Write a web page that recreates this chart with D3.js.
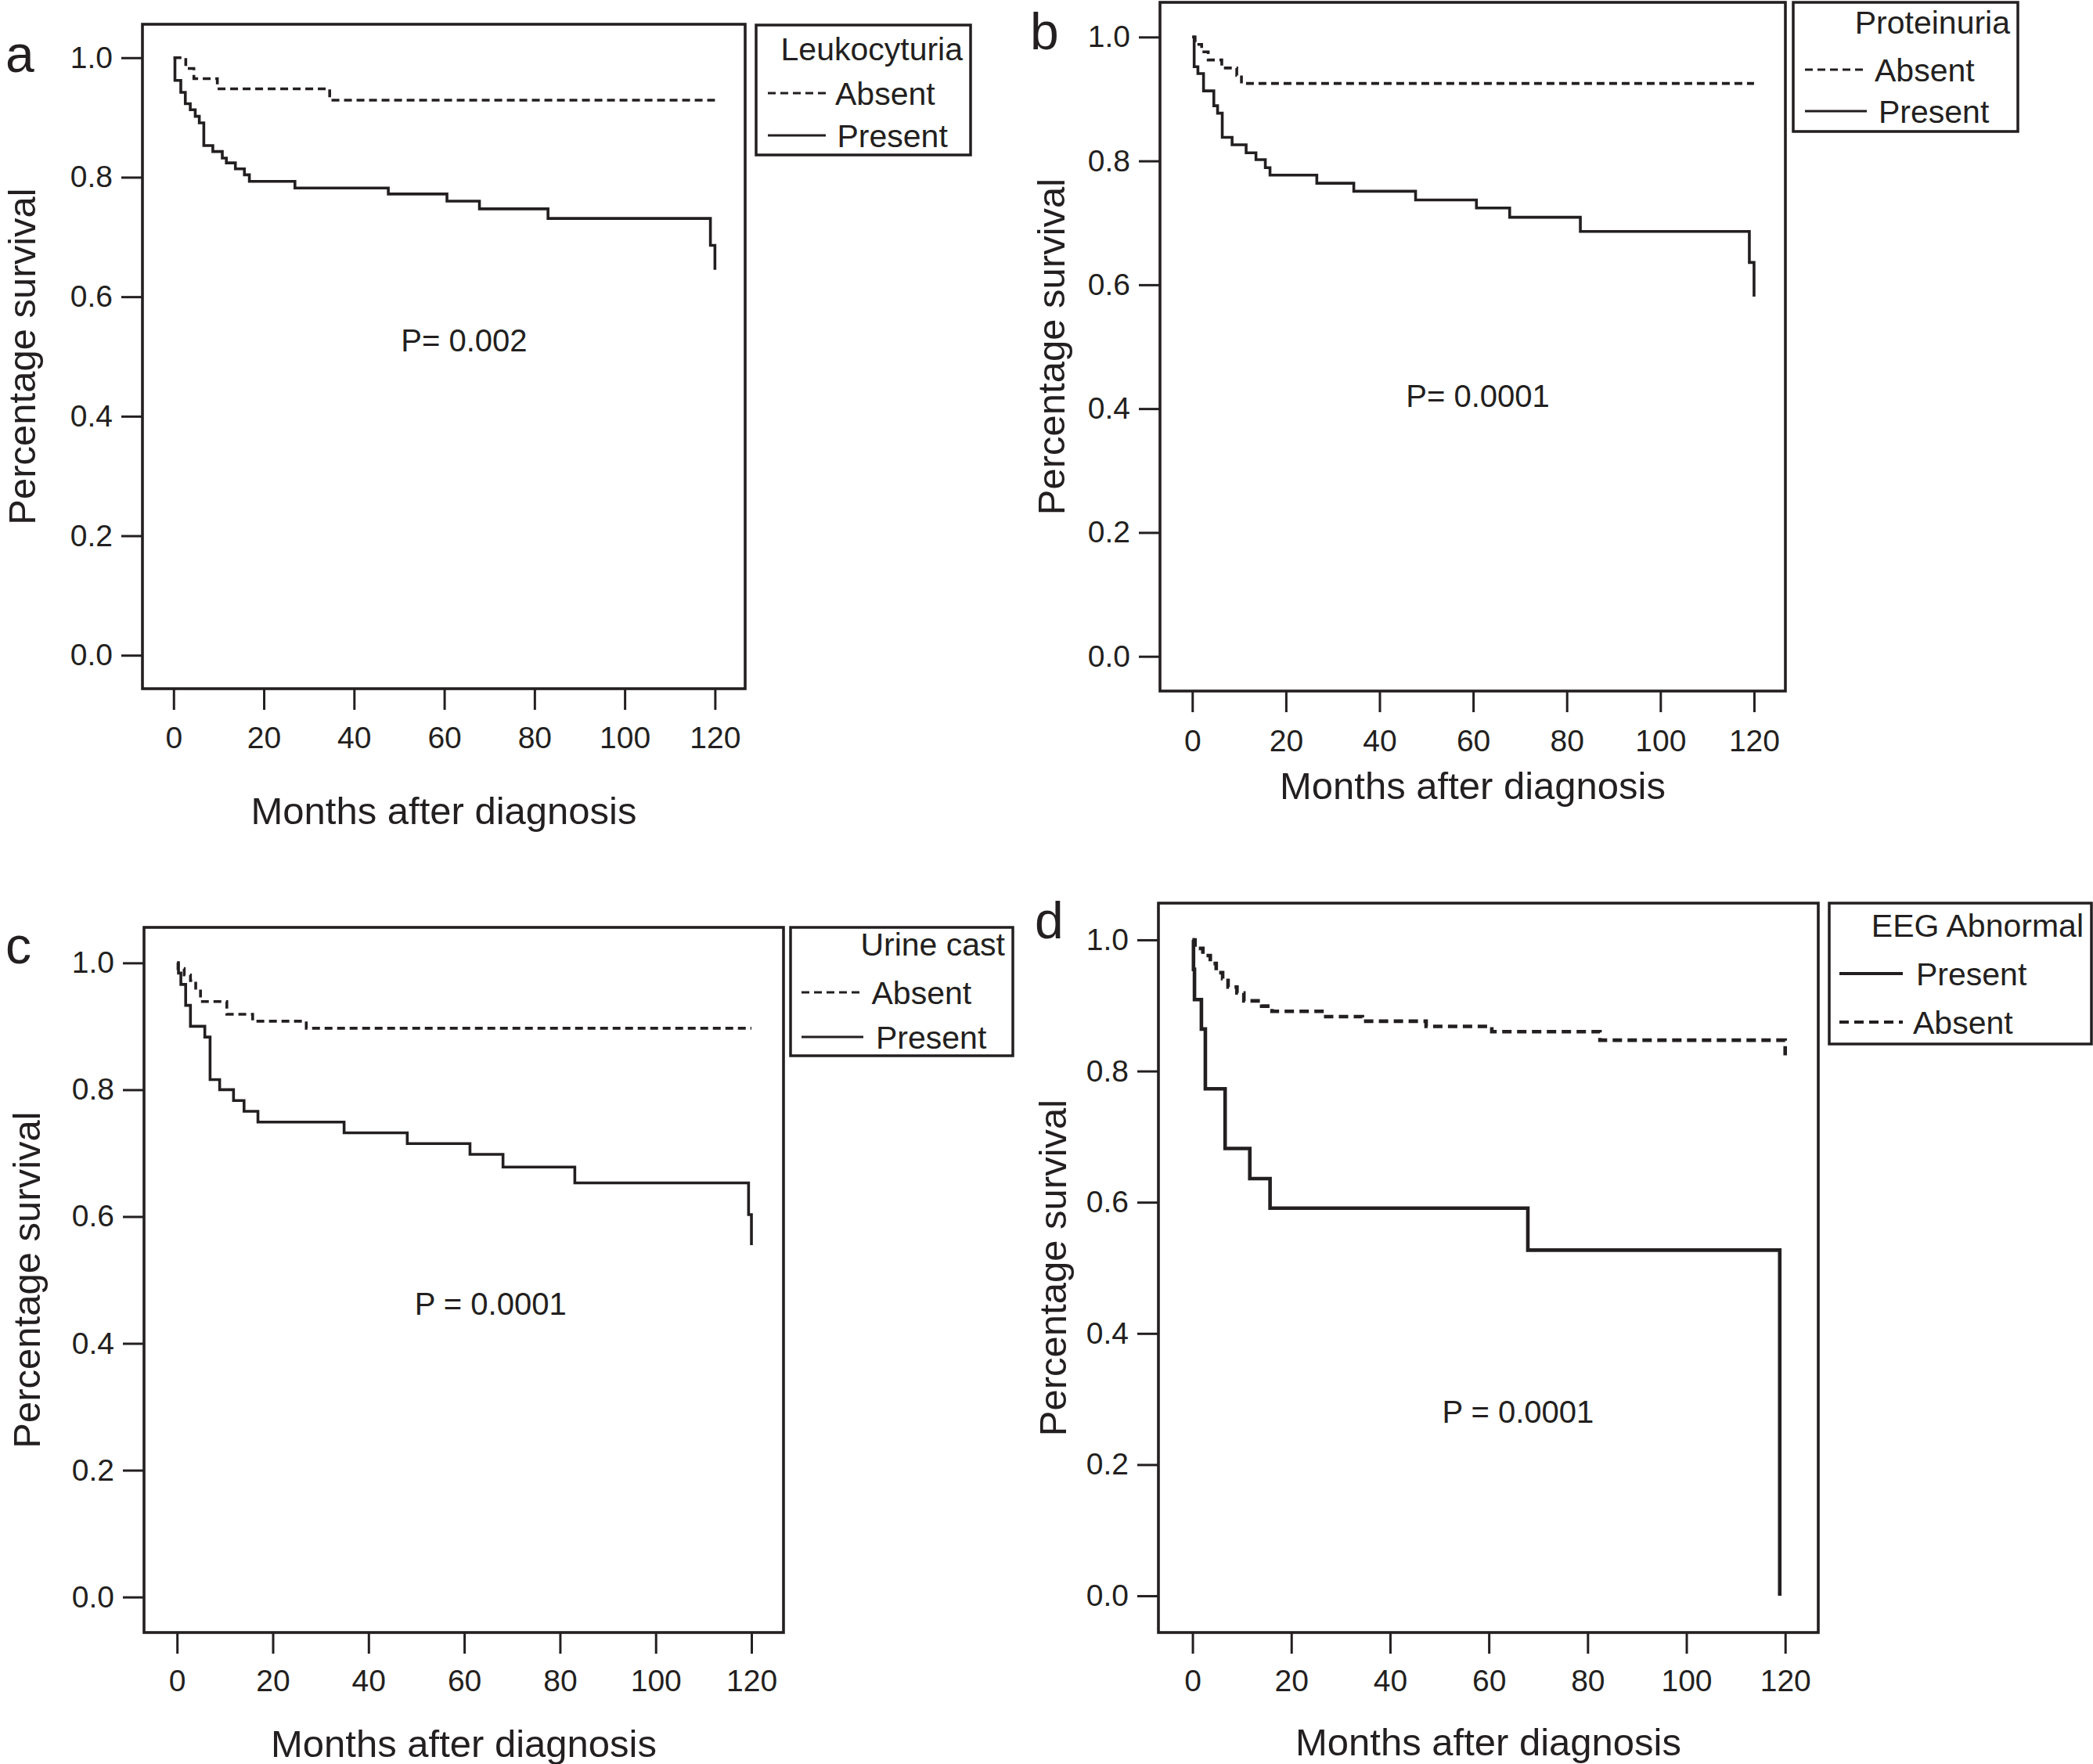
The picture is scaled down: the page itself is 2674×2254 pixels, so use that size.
<!DOCTYPE html>
<html>
<head>
<meta charset="utf-8">
<script src="https://cdn.jsdelivr.net/npm/d3@7"></script>
<style>
  html, body { margin: 0; padding: 0; background: #ffffff; }
  svg { display: block; }
</style>
</head>
<body>
<svg id="chart" width="2674" height="2254"></svg>
<script>
// ---------------- DATA ----------------
const monthTicks = [0, 20, 40, 60, 80, 100, 120];
const survivalTicks = [0.0, 0.2, 0.4, 0.6, 0.8, 1.0];

const panelLetters = ["a", "b", "c", "d"];
const legendTitles = ["Leukocyturia", "Proteinuria", "Urine cast", "EEG Abnormal"];
const pValueLabels = ["P= 0.002", "P= 0.0001", "P = 0.0001", "P = 0.0001"];
const xAxisTitle = "Months after diagnosis";
const yAxisTitle = "Percentage survival";

// (a) Leukocyturia
const leukoAbsentMonths   = [0, 2.7, 4.5, 9.7, 34.6, 120];
const leukoAbsentSurv     = [1.0, 0.982, 0.965, 0.948, 0.929, 0.929];
const leukoPresentMonths  = [0, 0.3, 1.6, 2.6, 3.7, 4.8, 5.7, 6.7, 8.7, 10.8, 11.7, 13.7, 15.7, 16.8, 26.9, 47.6, 60.6, 67.8, 83.0, 119.0, 120];
const leukoPresentSurv    = [1.0, 0.962, 0.942, 0.923, 0.913, 0.902, 0.891, 0.853, 0.843, 0.832, 0.824, 0.814, 0.804, 0.793, 0.782, 0.772, 0.760, 0.747, 0.731, 0.686, 0.645];

// (b) Proteinuria
const protAbsentMonths    = [0, 0.6, 2.0, 3.4, 6.3, 9.5, 10.5, 120];
const protAbsentSurv      = [1.0, 0.988, 0.976, 0.963, 0.950, 0.938, 0.925, 0.925];
const protPresentMonths   = [0, 0.4, 1.2, 2.4, 4.6, 5.4, 6.4, 8.5, 11.5, 13.6, 15.6, 16.6, 26.6, 34.5, 47.7, 60.7, 67.8, 82.9, 119.0, 120];
const protPresentSurv     = [1.0, 0.952, 0.941, 0.913, 0.889, 0.877, 0.838, 0.826, 0.813, 0.802, 0.789, 0.777, 0.764, 0.751, 0.737, 0.724, 0.709, 0.686, 0.636, 0.581];

// (c) Urine cast
const castAbsentMonths    = [0, 0.2, 1.5, 2.8, 3.9, 4.9, 10.4, 15.8, 27.0, 120];
const castAbsentSurv      = [1.0, 0.991, 0.981, 0.972, 0.960, 0.939, 0.919, 0.908, 0.897, 0.897];
const castPresentMonths   = [0, 0.3, 0.8, 1.8, 2.8, 5.8, 6.9, 8.9, 11.8, 14.0, 16.9, 34.9, 48.1, 61.2, 68.1, 83.1, 119.4, 120];
const castPresentSurv     = [1.0, 0.984, 0.966, 0.933, 0.900, 0.883, 0.816, 0.800, 0.783, 0.766, 0.749, 0.732, 0.715, 0.698, 0.678, 0.653, 0.603, 0.555];

// (d) EEG abnormal
const eegPresentMonths    = [0, 0.2, 0.4, 1.8, 2.6, 6.6, 11.6, 15.7, 67.9, 118.9];
const eegPresentSurv      = [1.0, 0.955, 0.909, 0.864, 0.773, 0.682, 0.636, 0.591, 0.527, 0.0];
const eegAbsentMonths     = [0, 0.5, 2.1, 3.6, 4.8, 6.1, 7.2, 9.0, 10.4, 14.0, 16.1, 26.6, 34.4, 47.3, 60.6, 82.5, 120];
const eegAbsentSurv       = [1.0, 0.987, 0.976, 0.964, 0.950, 0.941, 0.928, 0.919, 0.907, 0.899, 0.891, 0.883, 0.876, 0.868, 0.860, 0.847, 0.824];

// p-value label anchor positions (months, survival)
const pValueMonths = [64.4, 61.0, 65.5, 65.9];
const pValueSurv   = [0.527, 0.421, 0.462, 0.281];

// ---------------- LAYOUT ----------------
const INK = "#231f20";
const FONT = "'Liberation Sans', Arial, Helvetica, sans-serif";
const xDomain = [-6.9, 126.7];
const yDomain = [-0.056, 1.056];

const panels = [
  { frame: {x:182, y:31, w:770, h:849}, letter: {x:7, y:92}, yTitleX: 45, xTitleY: 1053, tickBase: 956,
    lw: 3.6, dash: "10,6",
    legend: {x:966, y:32, w:274, h:166, titleY:45, rows:[87,141], lineX:[15,89], textX:[101,103.5]},
    series: [
      {name:"Absent",  months: leukoAbsentMonths,  surv: leukoAbsentSurv,  dashed:true},
      {name:"Present", months: leukoPresentMonths, surv: leukoPresentSurv, dashed:false}
    ]},
  { frame: {x:1482, y:3, w:799, h:880}, letter: {x:1316, y:63}, yTitleX: 1360, xTitleY: 1021, tickBase: 960,
    lw: 3.6, dash: "10,6",
    legend: {x:2291, y:3, w:287, h:165, titleY:40, rows:[86,139], lineX:[15,94], textX:[104,109]},
    series: [
      {name:"Absent",  months: protAbsentMonths,  surv: protAbsentSurv,  dashed:true},
      {name:"Present", months: protPresentMonths, surv: protPresentSurv, dashed:false}
    ]},
  { frame: {x:184, y:1185, w:817, h:901}, letter: {x:7, y:1231}, yTitleX: 51, xTitleY: 2245, tickBase: 2161,
    lw: 3.6, dash: "10,6",
    legend: {x:1010, y:1185, w:284, h:164, titleY:36, rows:[83,140], lineX:[14,93], textX:[103.5,109]},
    series: [
      {name:"Absent",  months: castAbsentMonths,  surv: castAbsentSurv,  dashed:true},
      {name:"Present", months: castPresentMonths, surv: castPresentSurv, dashed:false}
    ]},
  { frame: {x:1480, y:1154, w:843, h:932}, letter: {x:1322, y:1199}, yTitleX: 1362, xTitleY: 2243, tickBase: 2161,
    lw: 4.6, dash: "12,7",
    legend: {x:2337, y:1154, w:335, h:180, titleY:43, rows:[90,152], lineX:[13,94], textX:[111,107]},
    series: [
      {name:"Present", months: eegPresentMonths, surv: eegPresentSurv, dashed:false},
      {name:"Absent",  months: eegAbsentMonths,  surv: eegAbsentSurv,  dashed:true}
    ]}
];

// ---------------- DRAW ----------------
const svg = d3.select("#chart");

panels.forEach((p, i) => {
  const f = p.frame;
  const x = d3.scaleLinear().domain(xDomain).range([f.x, f.x + f.w]);
  const y = d3.scaleLinear().domain(yDomain).range([f.y + f.h, f.y]);
  const g = svg.append("g");

  // y axis (ticks outside left of frame)
  const yAx = g.append("g")
    .attr("transform", `translate(${f.x},0)`)
    .call(d3.axisLeft(y).tickValues(survivalTicks).tickFormat(d3.format(".1f"))
      .tickSize(27).tickSizeOuter(0).tickPadding(11));
  yAx.select(".domain").remove();
  yAx.selectAll("line").attr("stroke", INK).attr("stroke-width", 3);
  yAx.selectAll("text").attr("fill", INK).attr("font-family", FONT).attr("font-size", 39);

  // x axis (ticks outside below frame)
  const xAx = g.append("g")
    .attr("transform", `translate(0,${f.y + f.h})`)
    .call(d3.axisBottom(x).tickValues(monthTicks).tickFormat(d3.format("d"))
      .tickSize(27).tickSizeOuter(0));
  xAx.select(".domain").remove();
  xAx.selectAll("line").attr("stroke", INK).attr("stroke-width", 3);
  xAx.selectAll("text").attr("fill", INK).attr("font-family", FONT).attr("font-size", 39)
    .attr("dy", null).attr("y", p.tickBase - (f.y + f.h));

  // curves
  const line = d3.line().x(d => x(d[0])).y(d => y(d[1])).curve(d3.curveStepAfter);
  p.series.forEach(s => {
    const pts = s.months.map((m, k) => [m, s.surv[k]]);
    g.append("path").datum(pts)
      .attr("d", line)
      .attr("fill", "none")
      .attr("stroke", INK)
      .attr("stroke-width", p.lw)
      .attr("stroke-linejoin", "miter")
      .attr("stroke-dasharray", s.dashed ? p.dash : null);
  });

  // frame
  g.append("rect").attr("x", f.x).attr("y", f.y).attr("width", f.w).attr("height", f.h)
    .attr("fill", "none").attr("stroke", INK).attr("stroke-width", 3.6);

  // p value
  g.append("text").attr("x", x(pValueMonths[i])).attr("y", y(pValueSurv[i]) + 14)
    .attr("text-anchor", "middle").attr("font-family", FONT).attr("font-size", 40)
    .attr("fill", INK).text(pValueLabels[i]);

  // axis titles
  g.append("text").attr("x", f.x + f.w / 2).attr("y", p.xTitleY)
    .attr("text-anchor", "middle").attr("font-family", FONT).attr("font-size", 49)
    .attr("fill", INK).text(xAxisTitle);
  g.append("text")
    .attr("transform", `translate(${p.yTitleX},${f.y + f.h / 2}) rotate(-90)`)
    .attr("text-anchor", "middle").attr("font-family", FONT).attr("font-size", 49)
    .attr("fill", INK).text(yAxisTitle);

  // panel letter
  g.append("text").attr("x", p.letter.x).attr("y", p.letter.y)
    .attr("font-family", FONT).attr("font-size", 66).attr("fill", INK).text(panelLetters[i]);

  // legend
  const L = p.legend;
  const lg = g.append("g").attr("transform", `translate(${L.x},${L.y})`);
  lg.append("rect").attr("width", L.w).attr("height", L.h)
    .attr("fill", "#fff").attr("stroke", INK).attr("stroke-width", 3.5);
  lg.append("text").attr("x", L.w - 10).attr("y", L.titleY).attr("text-anchor", "end")
    .attr("font-family", FONT).attr("font-size", 41).attr("fill", INK).text(legendTitles[i]);
  p.series.forEach((s, k) => {
    const ry = L.rows[k];
    lg.append("line").attr("x1", L.lineX[0]).attr("x2", L.lineX[1]).attr("y1", ry).attr("y2", ry)
      .attr("stroke", INK).attr("stroke-width", p.lw * 0.85)
      .attr("stroke-dasharray", s.dashed ? p.dash : null);
    lg.append("text").attr("x", L.textX[k]).attr("y", ry + 14.5)
      .attr("font-family", FONT).attr("font-size", 41).attr("fill", INK).text(s.name);
  });
});
</script>
</body>
</html>
